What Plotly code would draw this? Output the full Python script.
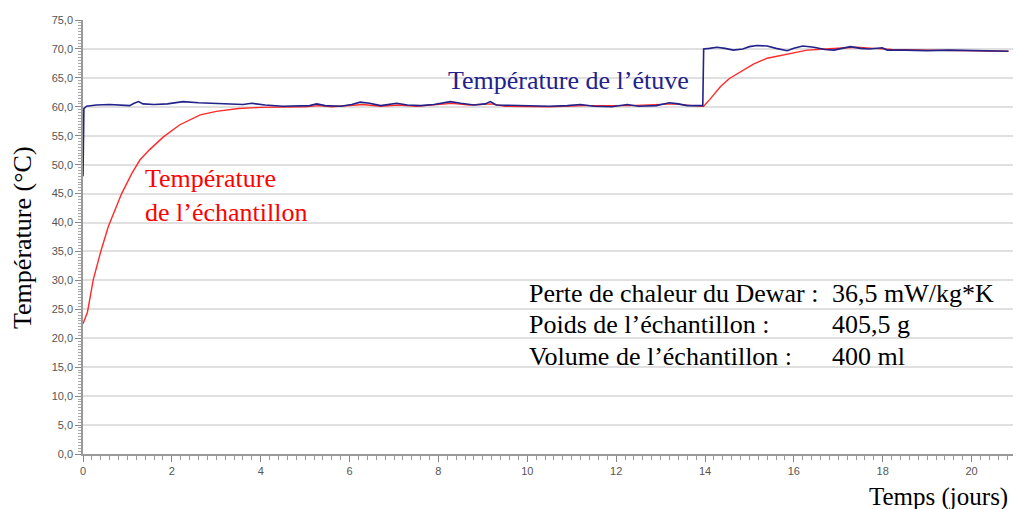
import plotly.graph_objects as go

# Oven temperature (Température de l'étuve)
oven_days = [0.00, 0.02, 0.08, 0.3, 0.6, 0.9, 1.05, 1.15, 1.25, 1.35, 1.6, 1.9, 2.25, 2.6, 3.0, 3.3,
             3.6, 3.8, 4.1, 4.5, 4.8, 5.1, 5.26, 5.45, 5.8, 6.05, 6.24, 6.45, 6.7, 7.06, 7.3, 7.6,
             7.9, 8.27, 8.5, 8.8, 9.05, 9.17, 9.3, 9.7, 10.1, 10.5, 10.9, 11.2, 11.5, 11.9, 12.25,
             12.5, 12.9, 13.2, 13.4, 13.6, 13.95, 13.97, 14.1, 14.27, 14.45, 14.64, 14.85, 15.0,
             15.17, 15.4, 15.6, 15.85, 16.0, 16.2, 16.45, 16.7, 16.9, 17.1, 17.27, 17.5, 17.7,
             17.99, 18.1, 18.5, 19.0, 19.5, 20.0, 20.5, 20.83]
oven_temp = [48.0, 59.7, 60.1, 60.3, 60.4, 60.2, 60.2, 60.6, 60.9, 60.5, 60.4, 60.5, 60.9, 60.7, 60.6, 60.5,
             60.4, 60.6, 60.3, 60.1, 60.1, 60.2, 60.5, 60.2, 60.1, 60.4, 60.8, 60.6, 60.2, 60.6, 60.3, 60.2,
             60.4, 60.9, 60.6, 60.3, 60.5, 60.9, 60.3, 60.2, 60.2, 60.1, 60.2, 60.4, 60.1, 60.0, 60.4,
             60.1, 60.2, 60.7, 60.5, 60.2, 60.2, 70.0, 70.1, 70.3, 70.1, 69.8, 70.0, 70.4,
             70.6, 70.5, 70.1, 69.7, 70.1, 70.5, 70.3, 69.9, 69.8, 70.1, 70.4, 70.1, 70.0,
             70.2, 69.8, 69.8, 69.7, 69.8, 69.7, 69.7, 69.6]

# Sample temperature (Température de l'échantillon)
sample_days = [0.0, 0.1, 0.23, 0.4, 0.57, 0.87, 1.1, 1.28, 1.5, 1.81, 2.18, 2.64, 3.0, 3.5, 4.0, 4.5,
               5.0, 5.3, 5.6, 6.3, 6.7, 7.1, 7.5, 8.3, 8.7, 9.2, 9.5, 10.5, 11.3, 12.3, 13.3, 13.7,
               13.97, 14.1, 14.35, 14.55, 14.8, 15.1, 15.4, 15.92, 16.3, 16.7, 17.05, 17.4, 17.8,
               18.2, 19.0, 20.0, 20.83]
sample_temp = [22.5, 24.5, 30.1, 35.0, 39.3, 45.0, 48.5, 50.8, 52.6, 54.8, 56.9, 58.6, 59.2, 59.7, 59.9, 60.0,
               60.0, 60.2, 60.0, 60.4, 60.1, 60.3, 60.1, 60.6, 60.3, 60.5, 60.1, 60.0, 60.2, 60.2, 60.5, 60.2,
               60.1, 61.2, 63.5, 64.9, 66.1, 67.4, 68.4, 69.2, 69.8, 70.0, 70.1, 70.3, 70.1,
               69.9, 69.8, 69.7, 69.6]

y_ticks = [0, 5, 10, 15, 20, 25, 30, 35, 40, 45, 50, 55, 60, 65, 70, 75]
x_ticks = [0, 2, 4, 6, 8, 10, 12, 14, 16, 18, 20]

info_labels = ["Perte de chaleur du Dewar :", "Poids de l’échantillon :", "Volume de l’échantillon :"]
info_values = ["36,5 mW/kg*K", "405,5 g", "400 ml"]

BLUE = "#22228a"
RED = "#ff2a2a"
SERIF = "Liberation Serif, Times New Roman, serif"
SANS = "Liberation Sans, Arial, sans-serif"
FS = 26

fig = go.Figure()
fig.add_trace(go.Scatter(x=sample_days, y=sample_temp, mode="lines",
                         line=dict(color=RED, width=1.4), showlegend=False))
fig.add_trace(go.Scatter(x=oven_days, y=oven_temp, mode="lines",
                         line=dict(color=BLUE, width=1.6), showlegend=False))

# page body has an 8px margin: shrink the figure so the plot area lands where the reference has it
fig.update_layout(
    width=1013, height=501,
    margin=dict(l=75, r=5, t=12, b=55),
    paper_bgcolor="white", plot_bgcolor="white",
    separators=", ",
    font=dict(family=SANS, size=11, color="#555"),
)
fig.update_xaxes(
    range=[0, 21.0], tickvals=x_ticks, tickformat="d",
    showgrid=False, zeroline=False,
    showline=True, linecolor="#999", linewidth=1.5,
    ticks="outside", ticklen=6, tickcolor="#888",
    minor=dict(dtick=0.2, tick0=0, ticks="outside", ticklen=4, tickcolor="#999", showgrid=False),
    tickfont=dict(family=SANS, size=11, color="#555"),
)
fig.update_yaxes(
    range=[0, 75], tickvals=y_ticks, tickformat=".1f",
    showgrid=True, gridcolor="#e0e0e0", gridwidth=1.5, zeroline=False,
    showline=True, linecolor="#999", linewidth=1.5,
    ticks="outside", ticklen=6, tickcolor="#888",
    minor=dict(dtick=0.5, tick0=0, ticks="outside", ticklen=3, tickcolor="#aaa", showgrid=False),
    tickfont=dict(family=SANS, size=11, color="#555"),
)

ann = []
ann.append(dict(text="Température (°C)", xref="paper", yref="paper", x=-0.0654, y=0.5,
                textangle=-90, showarrow=False, font=dict(family=SERIF, size=FS, color="black"),
                xanchor="center", yanchor="middle"))
ann.append(dict(text="Temps (jours)", xref="paper", yref="paper", x=0.994, y=-0.099,
                showarrow=False, font=dict(family=SERIF, size=25, color="black"),
                xanchor="right", yanchor="middle"))
ann.append(dict(text="Température de l’étuve", xref="x", yref="y", x=10.92, y=64.6,
                showarrow=False, font=dict(family=SERIF, size=FS, color=BLUE),
                xanchor="center", yanchor="middle"))
ann.append(dict(text="Température<br>de l’échantillon", xref="x", yref="y", x=1.35, y=44.6,
                showarrow=False, align="left", font=dict(family=SERIF, size=FS, color="red"),
                xanchor="left", yanchor="middle"))
for i, (lab, val) in enumerate(zip(info_labels, info_values)):
    yv = 27.8 - i * 5.5
    ann.append(dict(text=lab, xref="x", yref="y", x=10.0, y=yv, showarrow=False,
                    font=dict(family=SERIF, size=FS, color="black"), xanchor="left", yanchor="middle"))
    ann.append(dict(text=val, xref="x", yref="y", x=16.82, y=yv, showarrow=False,
                    font=dict(family=SERIF, size=FS, color="black"), xanchor="left", yanchor="middle"))
fig.update_layout(annotations=ann)

fig.write_html("out.html")
